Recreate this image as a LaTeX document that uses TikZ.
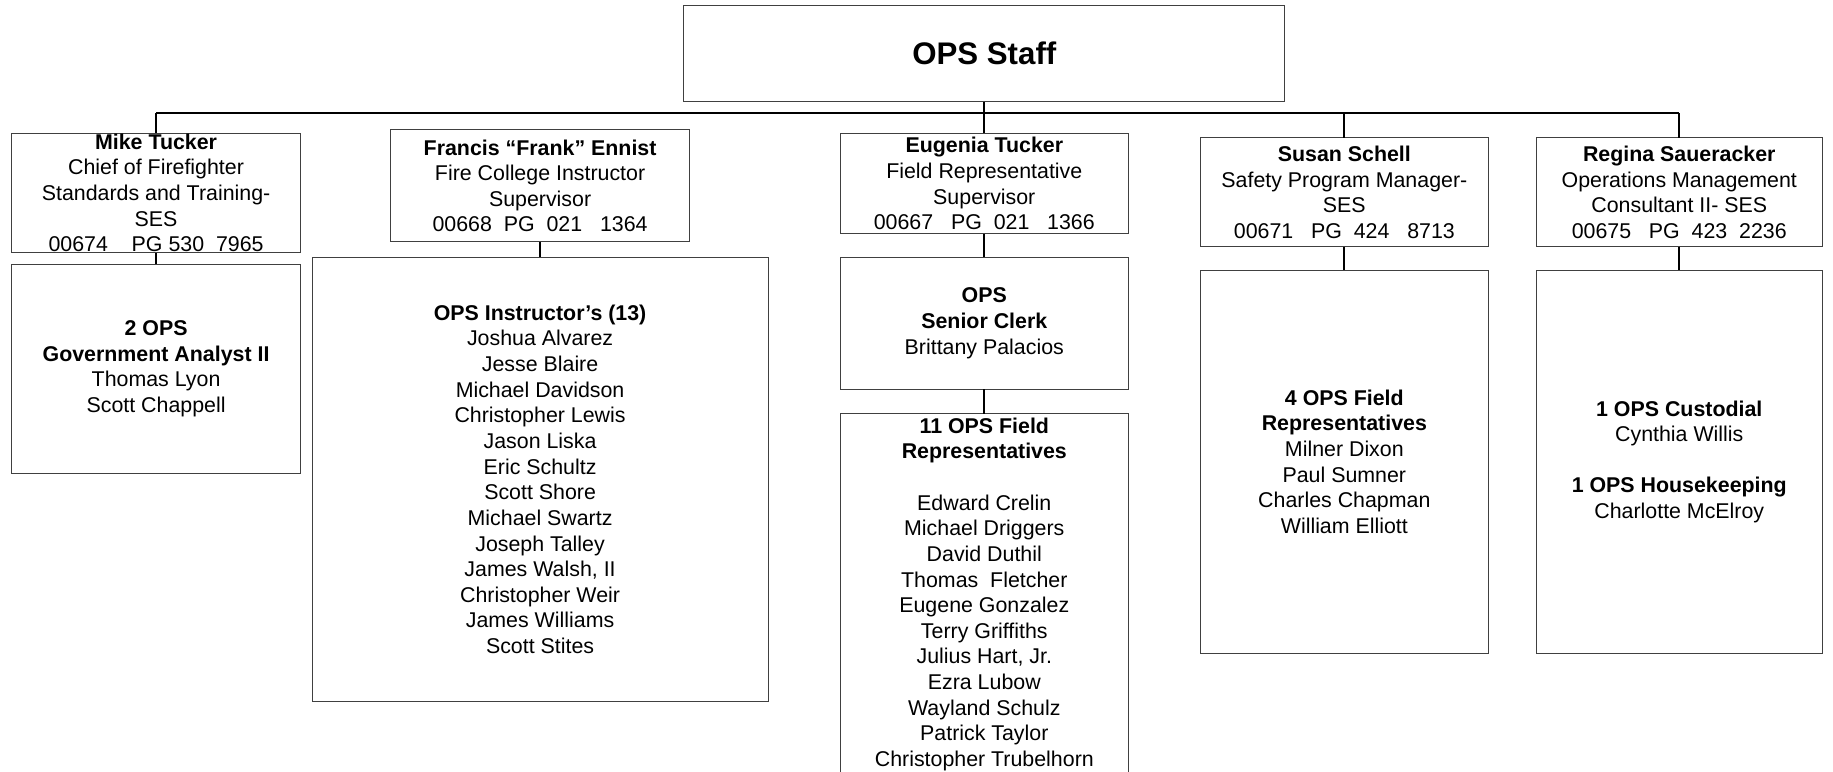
\documentclass[tikz,border=0pt]{standalone}
\usepackage{fontspec}
\setmainfont{Liberation Sans}
\usepackage{tikz}

\newcommand\pxu{0.025cm}

\tikzset{
  box/.style={draw=black!75, line width=0.6pt, rectangle, inner sep=0pt, outer sep=0pt},
  txt/.style={align=center, inner sep=0pt, font=\fontsize{13}{15.6}\selectfont},
  link/.style={draw=black, line width=1.2pt},
}

\begin{document}
\begin{tikzpicture}[x=\pxu, y=-\pxu]
            \useasboundingbox (0,0) rectangle (1568,660);
            \clip (0,0) rectangle (1568,660);

            % Top box
            \node[box, minimum width=514*\pxu, minimum height=82*\pxu] (staff) at (842,46) {};
            \node[txt, font=\fontsize{19}{22}\selectfont\bfseries] (stafft) at (staff.center) {OPS Staff};

            % Managers
            \node[box, minimum width=247*\pxu, minimum height=102*\pxu] (mike) at (133.5,165) {};
            \node[txt] (miket) at (mike.center) {\textbf{Mike Tucker}\\Chief of Firefighter\\Standards and Training-\\SES\\00674~~~~PG 530~~7965};

            \node[box, minimum width=256*\pxu, minimum height=96*\pxu] (frank) at (462,159) {};
            \node[txt] (frankt) at (frank.center) {\textbf{Francis “Frank” Ennist}\\Fire College Instructor\\Supervisor\\00668~~PG~~021~~~1364};

            \node[box, minimum width=246*\pxu, minimum height=86*\pxu] (eugenia) at (842,157) {};
            \node[txt] (eugeniat) at (eugenia.center) {\textbf{Eugenia Tucker}\\Field Representative\\Supervisor\\00667~~~PG~~021~~~1366};

            \node[box, minimum width=246*\pxu, minimum height=93*\pxu] (susan) at (1150,164.5) {};
            \node[txt] (susant) at (susan.center) {\textbf{Susan Schell}\\Safety Program Manager-\\SES\\00671~~~PG~~424~~~8713};

            \node[box, minimum width=245*\pxu, minimum height=93*\pxu] (regina) at (1436.5,164.5) {};
            \node[txt] (reginat) at (regina.center) {\textbf{Regina Saueracker}\\Operations Management\\Consultant II- SES\\00675~~~PG~~423~~2236};

            % Staff boxes
            \node[box, minimum width=247*\pxu, minimum height=179*\pxu] (analyst) at (133.5,315.5) {};
            \node[txt] (analystt) at (analyst.center) {\textbf{2 OPS}\\\textbf{Government Analyst II}\\Thomas Lyon\\Scott Chappell};

            \node[box, minimum width=390*\pxu, minimum height=380*\pxu] (instr) at (462,410) {};
            \node[txt] (instrt) at (instr.center) {\textbf{OPS Instructor’s (13)}\\Joshua Alvarez\\Jesse Blaire\\Michael Davidson\\Christopher Lewis\\Jason Liska\\Eric Schultz\\Scott Shore\\Michael Swartz\\Joseph Talley\\James Walsh, II\\Christopher Weir\\James Williams\\Scott Stites};

            \node[box, minimum width=246*\pxu, minimum height=113*\pxu] (clerk) at (842,276.5) {};
            \node[txt] (clerkt) at (clerk.center) {\textbf{OPS}\\\textbf{Senior Clerk}\\Brittany Palacios};

            \node[box, minimum width=246*\pxu, minimum height=340*\pxu] (field) at (842,524) {};
            \node[txt, anchor=north] (fieldt) at ([yshift=-3*\pxu]field.north) {\textbf{11 OPS Field}\\\textbf{Representatives}\\[15.6pt]Edward Crelin\\Michael Driggers\\David Duthil\\Thomas~~Fletcher\\Eugene Gonzalez\\Terry Griffiths\\Julius Hart, Jr.\\Ezra Lubow\\Wayland Schulz\\Patrick Taylor\\Christopher Trubelhorn};

            \node[box, minimum width=246*\pxu, minimum height=328*\pxu] (safety) at (1150,395) {};
            \node[txt] (safetyt) at (safety.center) {\textbf{4 OPS Field}\\\textbf{Representatives}\\Milner Dixon\\Paul Sumner\\Charles Chapman\\William Elliott};

            \node[box, minimum width=245*\pxu, minimum height=328*\pxu] (custod) at (1436.5,395) {};
            \node[txt] (custodt) at (custod.center) {\textbf{1 OPS Custodial}\\Cynthia Willis\\[15.6pt]\textbf{1 OPS Housekeeping}\\Charlotte McElroy};

            % Connectors
            \coordinate (busL) at (133.5,97);
            \coordinate (busR) at (1436.5,97);
            \draw[link] (busL) -- (busR);
            \draw[link] (staff.south) -- (staff.south |- busL);
            \draw[link] (mike.north |- busL) -- (mike.north);
            \draw[link] (eugenia.north |- busL) -- (eugenia.north);
            \draw[link] (susan.north |- busL) -- (susan.north);
            \draw[link] (regina.north |- busL) -- (regina.north);

            \draw[link] (mike.south) -- (analyst.north);
            \draw[link] (frank.south) -- (frank.south |- instr.north);
            \draw[link] (eugenia.south) -- (clerk.north);
            \draw[link] (clerk.south) -- (field.north);
            \draw[link] (susan.south) -- (safety.north);
            \draw[link] (regina.south) -- (custod.north);

        \end{tikzpicture}
\end{document}
